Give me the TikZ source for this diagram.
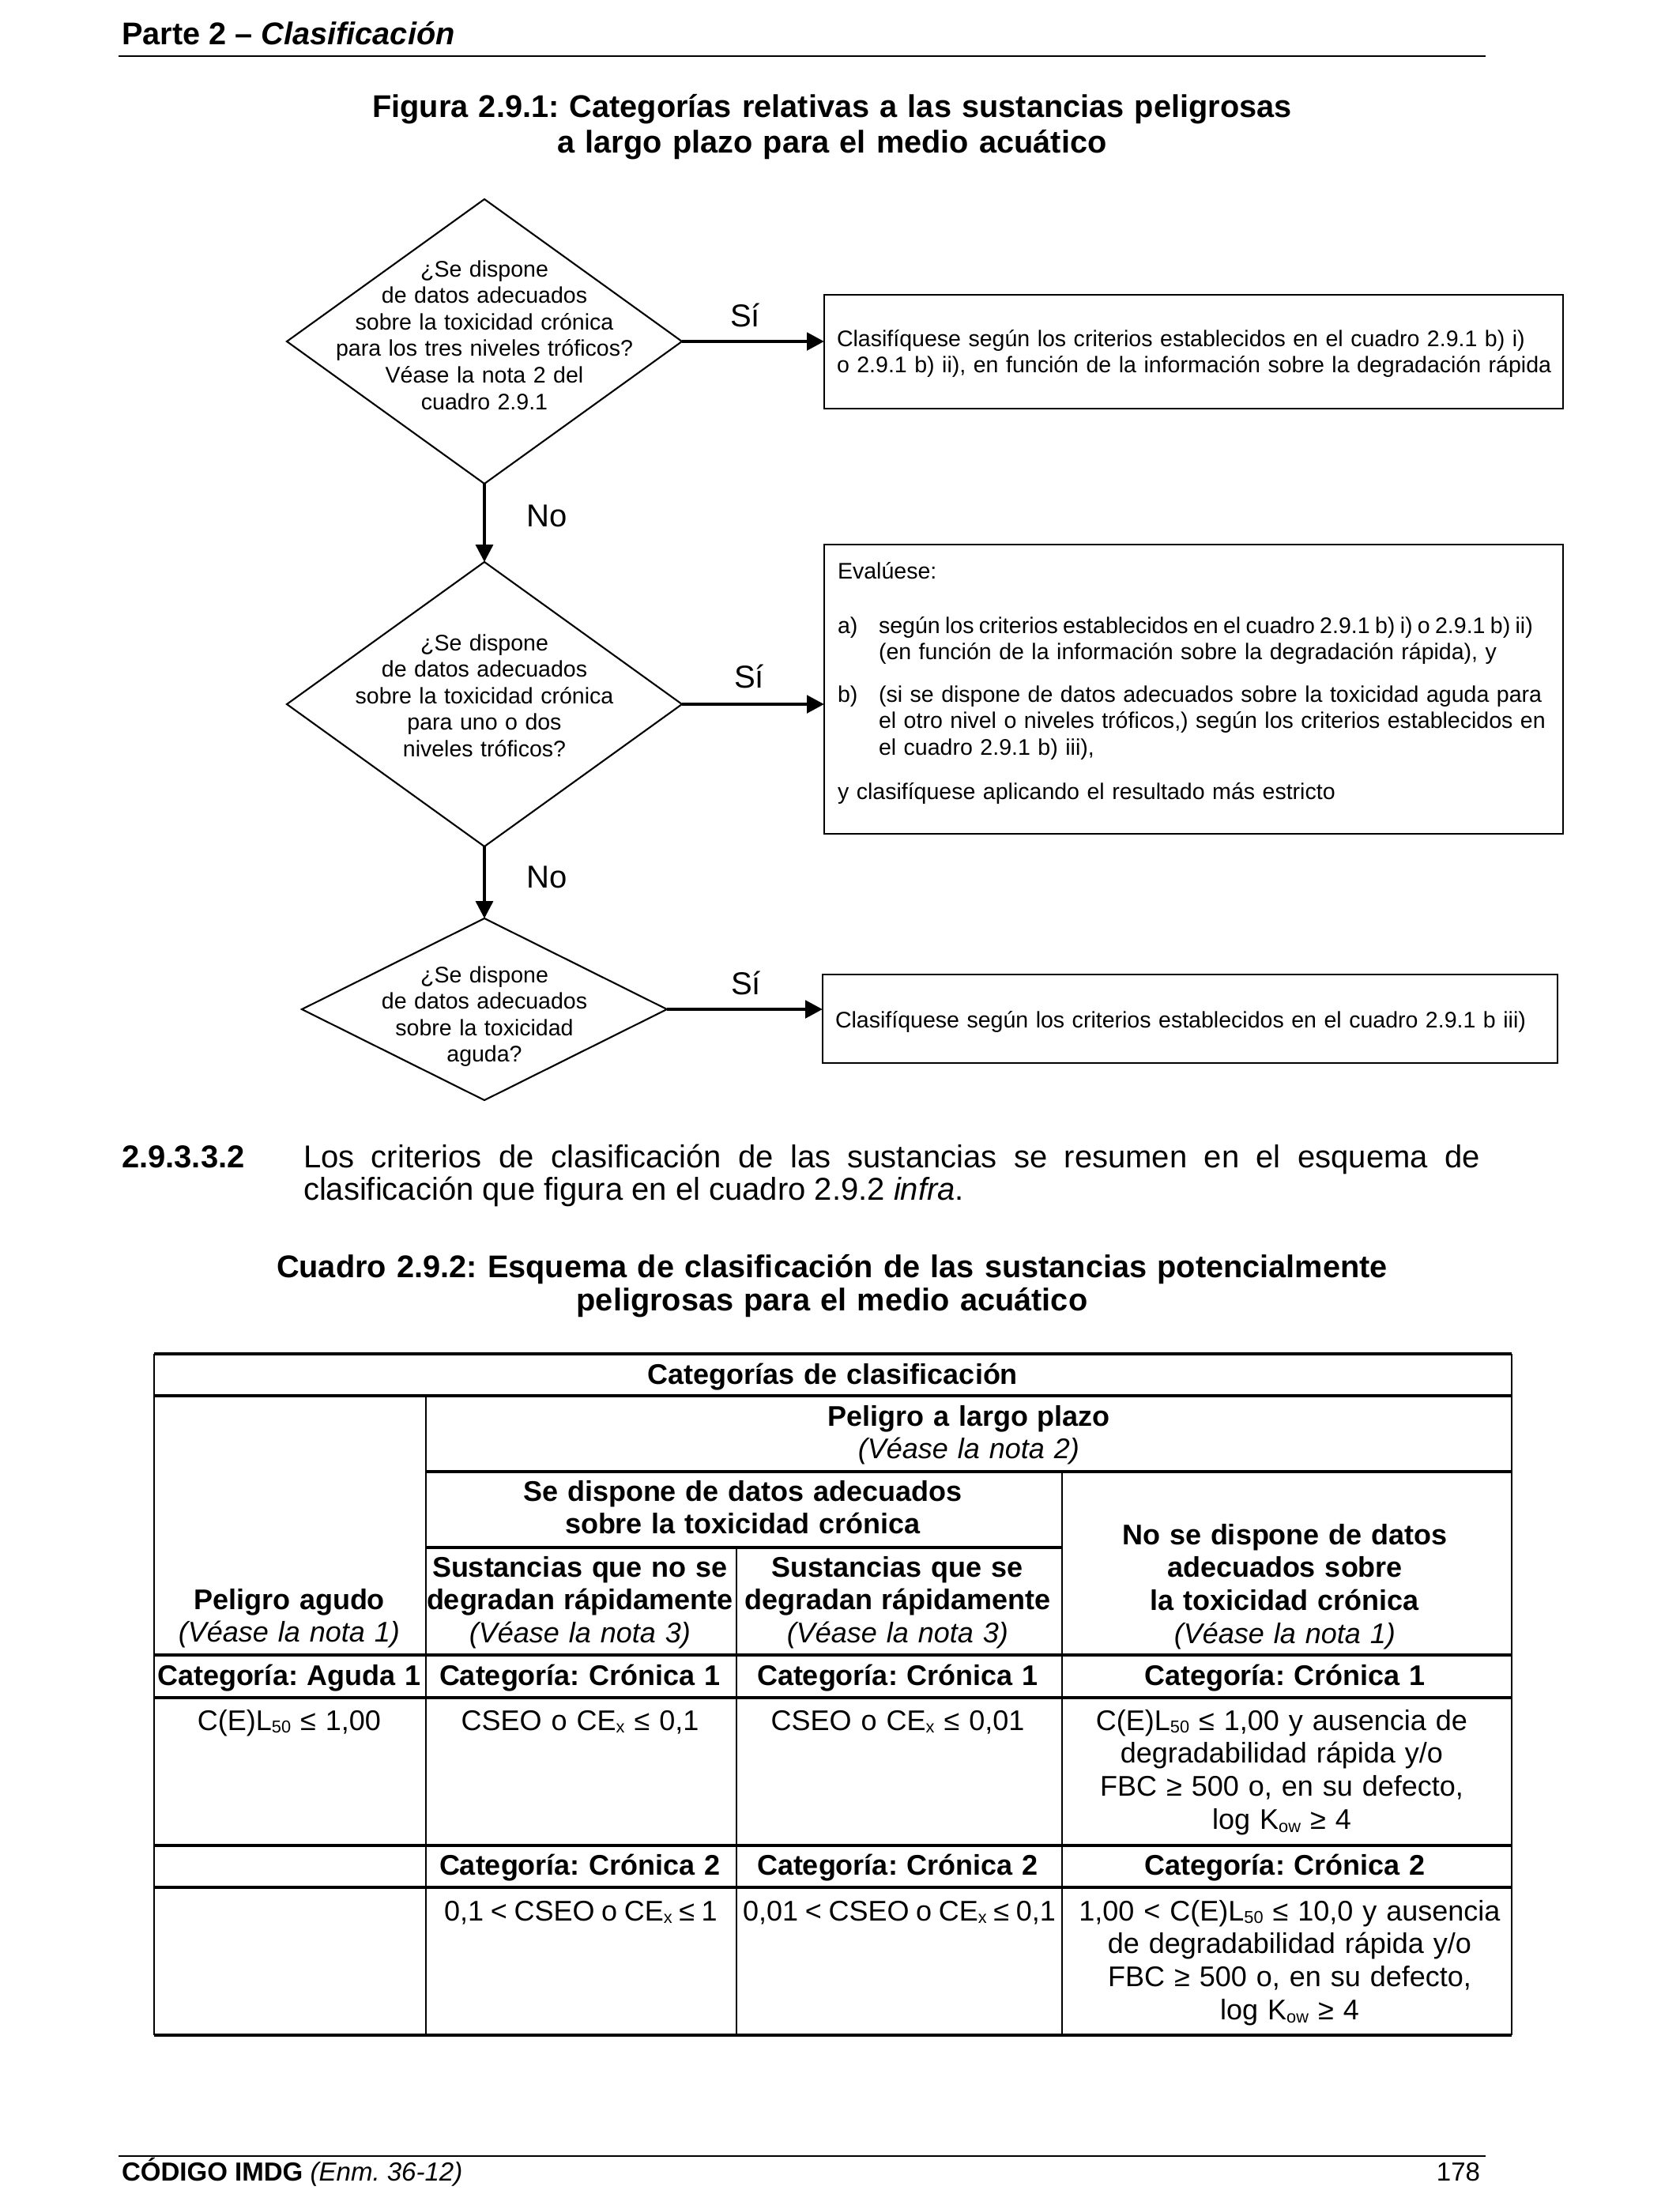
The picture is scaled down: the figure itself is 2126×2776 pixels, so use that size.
\documentclass[tikz,border=0pt]{standalone}
\usepackage{fontspec}
\setmainfont{Liberation Sans}
\usetikzlibrary{arrows.meta,shapes.geometric}
\newcommand{\fsz}[2]{\fontsize{#1}{#2}\selectfont}
\newcommand{\sbs}[1]{\raisebox{-0.2ex}{\fontsize{6.2pt}{6.2pt}\selectfont #1}}
\frenchspacing
\begin{document}
\begin{tikzpicture}[x=0.1mm,y=-0.1mm,
  every node/.style={inner sep=0pt, outer sep=0pt},
  hdr/.style={font=\fsz{11.3pt}{12.8pt}\bfseries},
  ttl/.style={font=\fsz{11.3pt}{12.8pt}\bfseries, text width=180mm, align=center, anchor=base},
  dia/.style={diamond, draw, line width=0.6pt},
  fbox/.style={rectangle, draw, line width=0.8pt},
  ftxt/.style={font=\fsz{8.12pt}{9.56pt}, text width=45mm, align=center, anchor=base},
  btxt/.style={font=\fsz{8.12pt}{9.56pt}, text width=95mm, align=left, anchor=base west},
  lbl/.style={font=\fsz{11.4pt}{12pt}, anchor=base},
  harrow/.style={line width=1.4pt, -{Triangle[length=2.2mm,width=2.2mm]}},
  varrow/.style={line width=1pt, -{Triangle[length=2.2mm,width=2.2mm]}},
  ptxt/.style={font=\fsz{11.38pt}{11.7pt}},
  tbl/.style={font=\fsz{10.24pt}{11.9pt}, text width=60mm, align=center, anchor=base},
  hline/.style={line width=0.9pt},
  vline/.style={line width=0.5pt},
  foot/.style={font=\fsz{9.4pt}{11pt}},
]
\fill[white] (0,0) rectangle (2126,2776);
\useasboundingbox (0,0) rectangle (2126,2776);

% header
\node[hdr, anchor=base west] (hd) at (154,56) {Parte 2 – \textit{Clasificación}};
\draw[line width=0.8pt] (150,71) -- (1880,71);
\node[ttl] (fig) at (1053,148) {Figura 2.9.1: Categorías relativas a las sustancias peligrosas\\a largo plazo para el medio acuático};

% flowchart
\node[dia, minimum width=50mm, minimum height=36mm] (d1) at (613,432) {};
\node[dia, minimum width=50mm, minimum height=36mm] (d2) at (613,891) {};
\node[dia, minimum width=46.2mm, minimum height=23mm] (d3) at (613,1277) {};

\node[fbox, minimum width=93.5mm, minimum height=14.4mm] (b1) at (1510.5,445) {};
\node[fbox, minimum width=93.5mm, minimum height=36.6mm] (b2) at (1510.5,872) {};
\node[fbox, minimum width=93mm, minimum height=11.2mm] (b3) at (1506,1289) {};

\draw[varrow] (d1.south) -- (d2.north);
\draw[varrow] (d2.south) -- (d3.north);
\draw[harrow] (d1.east) -- (d1.east -| b1.west);
\draw[harrow] (d2.east) -- (d2.east -| b2.west);
\draw[harrow] (d3.east) -- (d3.east -| b3.west);

\node[ftxt] (t1) at (613,350) {¿Se dispone\\de datos adecuados\\sobre la toxicidad crónica\\para los tres niveles tróficos?\\Véase la nota 2 del\\cuadro 2.9.1};
\node[ftxt] (t2) at (613,823) {¿Se dispone\\de datos adecuados\\sobre la toxicidad crónica\\para uno o dos\\niveles tróficos?};
\node[ftxt] (t3) at (613,1243) {¿Se dispone\\de datos adecuados\\sobre la toxicidad\\aguda?};

\node[lbl] (si1) at (943,413) {Sí};
\node[lbl] (si2) at (948,870) {Sí};
\node[lbl] (si3) at (944,1258) {Sí};
\node[lbl] (no1) at (692,666) {No};
\node[lbl] (no2) at (692,1123) {No};

\node[btxt] (bt1) at (1059,438) {Clasifíquese según los criterios establecidos en el cuadro 2.9.1 b) i)\\o 2.9.1 b) ii), en función de la información sobre la degradación rápida};
\node[btxt] (ev) at (1060,732) {Evalúese:};
\node[btxt] (ia) at (1060,801) {a)};
\node[btxt] (ta) at (1112,801) {{\spaceskip=0.222em plus 0.05em\relax según los criterios establecidos en el cuadro 2.9.1 b) i) o 2.9.1 b) ii)}\\(en función de la información sobre la degradación rápida), y};
\node[btxt] (ib) at (1060,888) {b)};
\node[btxt] (tb) at (1112,888) {(si se dispone de datos adecuados sobre la toxicidad aguda para\\el otro nivel o niveles tróficos,) según los criterios establecidos en\\el cuadro 2.9.1 b) iii),};
\node[btxt] (yc) at (1060,1011) {y clasifíquese aplicando el resultado más estricto};
\node[btxt] (bt3) at (1057,1300) {Clasifíquese según los criterios establecidos en el cuadro 2.9.1 b iii)};

% paragraph
\node[ptxt, anchor=base west, font=\fsz{11.38pt}{11.7pt}\bfseries] (pn) at (154,1477) {2.9.3.3.2};
\node[ptxt, text width=148.9mm, align=justify, anchor=base west] (pt) at (384,1477) {Los criterios de clasificación de las sustancias se resumen en el esquema de\linebreak clasificación que figura en el cuadro 2.9.2 \textit{infra}.};

\node[ttl, font=\fsz{11.3pt}{12.2pt}\bfseries] (cdr) at (1053,1616) {Cuadro 2.9.2: Esquema de clasificación de las sustancias potencialmente\\peligrosas para el medio acuático};

% table lines
\draw[hline] (195,1713) -- (1913,1713);
\draw[hline] (195,1766) -- (1913,1766);
\draw[hline] (539,1862) -- (1913,1862);
\draw[hline] (539,1958) -- (1344,1958);
\draw[hline] (195,2094) -- (1913,2094);
\draw[hline] (195,2148) -- (1913,2148);
\draw[hline] (195,2335) -- (1913,2335);
\draw[hline] (195,2388) -- (1913,2388);
\draw[hline] (195,2575) -- (1913,2575);
\draw[vline] (195,1713) -- (195,2575);
\draw[vline] (1913,1713) -- (1913,2575);
\draw[vline] (539,1766) -- (539,2575);
\draw[vline] (932,1958) -- (932,2575);
\draw[vline] (1344,1862) -- (1344,2575);

% table text
\node[tbl] (c0) at (1054,1751) {\bfseries Categorías de clasificación};
\node[tbl] (c1) at (1226,1804) {\textbf{Peligro a largo plazo}\\\textit{(Véase la nota 2)}};
\node[tbl] (c2) at (940,1899) {\bfseries Se dispone de datos adecuados\\sobre la toxicidad crónica};
\node[tbl] (c3) at (1626,1954) {\textbf{No se dispone de datos}\\\textbf{adecuados sobre}\\\textbf{la toxicidad crónica}\\\textit{(Véase la nota 1)}};
\node[tbl] (c4) at (734,1995) {\textbf{Sustancias que no se}\\\textbf{degradan rápidamente}\\\textit{(Véase la nota 3)}};
\node[tbl] (c5) at (1136,1995) {\textbf{Sustancias que se}\\\textbf{degradan rápidamente}\\\textit{(Véase la nota 3)}};
\node[tbl] (c6) at (366,2036) {\textbf{Peligro agudo}\\\textit{(Véase la nota 1)}};

\node[tbl] (r1a) at (366,2132) {\bfseries Categoría: Aguda 1};
\node[tbl] (r1b) at (734,2132) {\bfseries Categoría: Crónica 1};
\node[tbl] (r1c) at (1136,2132) {\bfseries Categoría: Crónica 1};
\node[tbl] (r1d) at (1626,2132) {\bfseries Categoría: Crónica 1};

\node[tbl] (d1a) at (366,2189) {C(E)L\sbs{50} ≤ 1,00};
\node[tbl] (d1b) at (734,2189) {CSEO o CE\sbs{x} ≤ 0,1};
\node[tbl] (d1c) at (1136,2189) {CSEO o CE\sbs{x} ≤ 0,01};
\node[tbl] (d1d) at (1622,2189) {C(E)L\sbs{50} ≤ 1,00 y ausencia de\\degradabilidad rápida y/o\\FBC ≥ 500 o, en su defecto,\\log K\sbs{ow} ≥ 4};

\node[tbl] (r2b) at (734,2372) {\bfseries Categoría: Crónica 2};
\node[tbl] (r2c) at (1136,2372) {\bfseries Categoría: Crónica 2};
\node[tbl] (r2d) at (1626,2372) {\bfseries Categoría: Crónica 2};

\node[tbl] (d2b) at (735,2430) {\spaceskip=0.24em\relax 0,1 < CSEO o CE\sbs{x} ≤ 1};
\node[tbl] (d2c) at (1138,2430) {\spaceskip=0.24em\relax 0,01 < CSEO o CE\sbs{x} ≤ 0,1};
\node[tbl] (d2d) at (1632,2430) {1,00 < C(E)L\sbs{50} ≤ 10,0 y ausencia\\de degradabilidad rápida y/o\\FBC ≥ 500 o, en su defecto,\\log K\sbs{ow} ≥ 4};

% footer
\draw[line width=0.8pt] (150,2728) -- (1880,2728);
\node[foot, anchor=base west] (ft) at (154,2759) {\textbf{CÓDIGO IMDG} \textit{(Enm. 36-12)}};
\node[foot, anchor=base east] (pg) at (1873,2759) {178};
\end{tikzpicture}
\end{document}
